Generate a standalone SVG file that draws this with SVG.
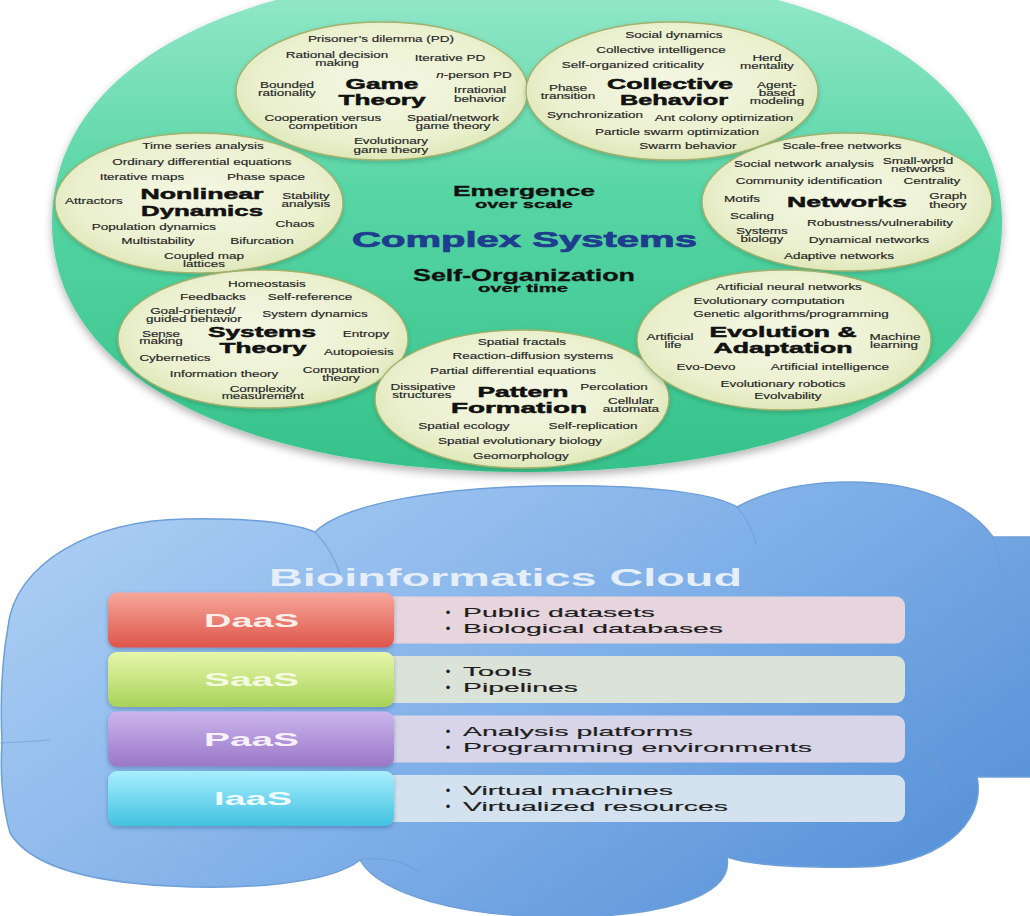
<svg xmlns="http://www.w3.org/2000/svg" width="1030" height="916" viewBox="0 0 1030 916">
<defs>
<linearGradient id="gBig" x1="0" y1="0" x2="0" y2="1">
<stop offset="0" stop-color="#98e9cc"/><stop offset="0.45" stop-color="#56d5a4"/><stop offset="1" stop-color="#36c28a"/>
</linearGradient>
<radialGradient id="gCirc" cx="0.5" cy="0.45" r="0.6">
<stop offset="0" stop-color="#f4f7e3"/><stop offset="0.7" stop-color="#ebf0cf"/><stop offset="1" stop-color="#dbe5b1"/>
</radialGradient>
<linearGradient id="gCloud" x1="0" y1="0.2" x2="1" y2="0.8">
<stop offset="0" stop-color="#aacdf3"/><stop offset="0.5" stop-color="#80b0e8"/><stop offset="1" stop-color="#5590d7"/>
</linearGradient>
<linearGradient id="gD" x1="0" y1="0" x2="0" y2="1"><stop offset="0" stop-color="#f6a89c"/><stop offset="1" stop-color="#df5549"/></linearGradient>
<linearGradient id="gS" x1="0" y1="0" x2="0" y2="1"><stop offset="0" stop-color="#e7f6ab"/><stop offset="1" stop-color="#a8d35a"/></linearGradient>
<linearGradient id="gP" x1="0" y1="0" x2="0" y2="1"><stop offset="0" stop-color="#cbb6ec"/><stop offset="1" stop-color="#9a77c8"/></linearGradient>
<linearGradient id="gI" x1="0" y1="0" x2="0" y2="1"><stop offset="0" stop-color="#a8eefd"/><stop offset="1" stop-color="#42c2e1"/></linearGradient>
<filter id="shBig" x="-5%" y="-5%" width="110%" height="115%"><feDropShadow dx="0" dy="4" stdDeviation="4" flood-color="#000" flood-opacity="0.3"/></filter>
<filter id="shC" x="-5%" y="-5%" width="110%" height="115%"><feDropShadow dx="0" dy="2" stdDeviation="2" flood-color="#1a5a40" flood-opacity="0.3"/></filter>
<filter id="shB" x="-5%" y="-10%" width="110%" height="130%"><feDropShadow dx="0" dy="2" stdDeviation="2" flood-color="#1c3c70" flood-opacity="0.35"/></filter>
</defs>
<style>
.circ{fill:url(#gCirc);stroke:#a3b16c;stroke-width:1.3;filter:url(#shC)}
.s{font-family:"Liberation Sans",Arial,sans-serif;font-size:8.7px;fill:#252525;stroke:#252525;stroke-width:0.15;text-anchor:middle;transform-box:fill-box;transform-origin:50% 50%;transform:scaleX(1.55)}
.t{font-family:"Liberation Sans",Arial,sans-serif;font-size:15px;font-weight:bold;fill:#111;stroke:#111;stroke-width:0.5;text-anchor:middle}
.c{font-family:"Liberation Sans",Arial,sans-serif;font-weight:bold;fill:#111;stroke:#111;stroke-width:0.3;text-anchor:middle}
.blk{font-family:"Liberation Sans",Arial,sans-serif;font-size:19px;font-weight:bold;text-anchor:middle}
.pt{font-family:"Liberation Sans",Arial,sans-serif;font-size:13px;fill:#1e1e1e;stroke:#1e1e1e;stroke-width:0.15}
.bul{font-family:"Liberation Sans",Arial,sans-serif;font-size:13px;fill:#1e1e1e;text-anchor:middle}
.arc{fill:none;stroke:#6f9dd6;stroke-width:1.2;opacity:0.7}
</style>
<rect width="1030" height="916" fill="#ffffff"/>

<g id="complex-systems">
<path d="M1002,223 C1002,377 812,472 527,472 C242,472 52,377 52,223 C52,66 233,-30 527,-30 C821,-30 1002,66 1002,223 Z" fill="url(#gBig)" filter="url(#shBig)"/>
<text class="c" x="524" y="196" font-size="14" textLength="142" lengthAdjust="spacingAndGlyphs">Emergence</text>
<text class="c" x="524" y="207.5" font-size="11" textLength="98" lengthAdjust="spacingAndGlyphs">over scale</text>
<text class="c" x="524.5" y="247" font-size="22" style="fill:#1f3d8e;stroke:#1f3d8e;stroke-width:0.7" textLength="345" lengthAdjust="spacingAndGlyphs">Complex Systems</text>
<text class="c" x="524" y="280.5" font-size="16" textLength="222" lengthAdjust="spacingAndGlyphs">Self-Organization</text>
<text class="c" x="523" y="291.5" font-size="11" textLength="90" lengthAdjust="spacingAndGlyphs">over time</text>
</g>

<g id="game-theory">
<ellipse class="circ" cx="382" cy="91" rx="146" ry="69"/>
<text class="s" x="381" y="42.1">Prisoner’s dilemma (PD)</text>
<text class="s" x="337" y="57.8">Rational decision</text>
<text class="s" x="337" y="66.1">making</text>
<text class="s" x="450" y="61.5">Iterative PD</text>
<text class="s" x="474" y="77.8"><tspan font-style="italic">n</tspan>-person PD</text>
<text class="s" x="287" y="87.8">Bounded</text>
<text class="s" x="287" y="96.1">rationality</text>
<text class="t" x="382" y="88.7" textLength="73" lengthAdjust="spacingAndGlyphs">Game</text>
<text class="t" x="382" y="105" textLength="87" lengthAdjust="spacingAndGlyphs">Theory</text>
<text class="s" x="480" y="93.5">Irrational</text>
<text class="s" x="480" y="101.8">behavior</text>
<text class="s" x="323" y="121.1">Cooperation versus</text>
<text class="s" x="323" y="129.5">competition</text>
<text class="s" x="453" y="121.1">Spatial/network</text>
<text class="s" x="453" y="129.5">game theory</text>
<text class="s" x="391" y="144.5">Evolutionary</text>
<text class="s" x="391" y="152.8">game theory</text>
</g>

<g id="collective-behavior">
<ellipse class="circ" cx="672" cy="91" rx="146" ry="69"/>
<text class="s" x="674" y="37.8">Social dynamics</text>
<text class="s" x="661" y="52.8">Collective intelligence</text>
<text class="s" x="633" y="67.8">Self-organized criticality</text>
<text class="s" x="767" y="61.1">Herd</text>
<text class="s" x="767" y="69.5">mentality</text>
<text class="s" x="568" y="91.1">Phase</text>
<text class="s" x="568" y="99.5">transition</text>
<text class="t" x="670" y="88.7" textLength="126" lengthAdjust="spacingAndGlyphs">Collective</text>
<text class="t" x="674" y="105" textLength="108" lengthAdjust="spacingAndGlyphs">Behavior</text>
<text class="s" x="777" y="87.8">Agent-</text>
<text class="s" x="777" y="96.1">based</text>
<text class="s" x="777" y="104">modeling</text>
<text class="s" x="595" y="117.8">Synchronization</text>
<text class="s" x="724" y="121.1">Ant colony optimization</text>
<text class="s" x="677" y="135.5">Particle swarm optimization</text>
<text class="s" x="688" y="148.8">Swarm behavior</text>
</g>

<g id="nonlinear-dynamics">
<ellipse class="circ" cx="199" cy="203" rx="144" ry="70"/>
<text class="s" x="203" y="149.5">Time series analysis</text>
<text class="s" x="202" y="165.1">Ordinary differential equations</text>
<text class="s" x="142" y="180.5">Iterative maps</text>
<text class="s" x="266" y="180.5">Phase space</text>
<text class="s" x="94" y="203.8">Attractors</text>
<text class="t" x="202" y="199.3" textLength="123" lengthAdjust="spacingAndGlyphs">Nonlinear</text>
<text class="t" x="202" y="216" textLength="122" lengthAdjust="spacingAndGlyphs">Dynamics</text>
<text class="s" x="306" y="198.8">Stability</text>
<text class="s" x="306" y="206.8">analysis</text>
<text class="s" x="295" y="227.1">Chaos</text>
<text class="s" x="154" y="230.5">Population dynamics</text>
<text class="s" x="158" y="244.5">Multistability</text>
<text class="s" x="262" y="244.5">Bifurcation</text>
<text class="s" x="204" y="258.8">Coupled map</text>
<text class="s" x="204" y="266.8">lattices</text>
</g>

<g id="networks">
<ellipse class="circ" cx="847" cy="202" rx="145" ry="69"/>
<text class="s" x="842" y="149.5">Scale-free networks</text>
<text class="s" x="804" y="167.1">Social network analysis</text>
<text class="s" x="918" y="164.5">Small-world</text>
<text class="s" x="918" y="172.1">networks</text>
<text class="s" x="809" y="184.5">Community identification</text>
<text class="s" x="932" y="184.5">Centrality</text>
<text class="s" x="742" y="202.1">Motifs</text>
<text class="t" x="847" y="207.3" textLength="120" lengthAdjust="spacingAndGlyphs">Networks</text>
<text class="s" x="948" y="199.5">Graph</text>
<text class="s" x="948" y="207.8">theory</text>
<text class="s" x="752" y="218.8">Scaling</text>
<text class="s" x="880" y="226.1">Robustness/vulnerability</text>
<text class="s" x="762" y="233.8">Systems</text>
<text class="s" x="762" y="242.1">biology</text>
<text class="s" x="869" y="242.8">Dynamical networks</text>
<text class="s" x="839" y="259.5">Adaptive networks</text>
</g>

<g id="systems-theory">
<ellipse class="circ" cx="263" cy="339" rx="145" ry="69"/>
<text class="s" x="267" y="286.8">Homeostasis</text>
<text class="s" x="213" y="300.1">Feedbacks</text>
<text class="s" x="310" y="300.1">Self-reference</text>
<text class="s" x="193" y="313.8">Goal-oriented/</text>
<text class="s" x="194" y="321.8">guided behavior</text>
<text class="s" x="315" y="317.1">System dynamics</text>
<text class="s" x="161" y="336.8">Sense</text>
<text class="s" x="161" y="344.5">making</text>
<text class="t" x="262" y="336.7" textLength="108" lengthAdjust="spacingAndGlyphs">Systems</text>
<text class="t" x="263" y="353.3" textLength="87" lengthAdjust="spacingAndGlyphs">Theory</text>
<text class="s" x="366" y="336.8">Entropy</text>
<text class="s" x="359" y="355.5">Autopoiesis</text>
<text class="s" x="175" y="361.1">Cybernetics</text>
<text class="s" x="224" y="376.8">Information theory</text>
<text class="s" x="341" y="373.5">Computation</text>
<text class="s" x="341" y="381.1">theory</text>
<text class="s" x="263" y="391.8">Complexity</text>
<text class="s" x="263" y="399.5">measurement</text>
</g>

<g id="pattern-formation">
<ellipse class="circ" cx="522" cy="399" rx="147" ry="69"/>
<text class="s" x="522" y="345.1">Spatial fractals</text>
<text class="s" x="533" y="359.5">Reaction-diffusion systems</text>
<text class="s" x="513" y="374.5">Partial differential equations</text>
<text class="s" x="423" y="390.1">Dissipative</text>
<text class="s" x="422" y="397.8">structures</text>
<text class="t" x="523" y="396.7" textLength="91" lengthAdjust="spacingAndGlyphs">Pattern</text>
<text class="t" x="519" y="413.3" textLength="136" lengthAdjust="spacingAndGlyphs">Formation</text>
<text class="s" x="614" y="390.1">Percolation</text>
<text class="s" x="631" y="404.5">Cellular</text>
<text class="s" x="631" y="412.1">automata</text>
<text class="s" x="464" y="429.5">Spatial ecology</text>
<text class="s" x="593" y="429.5">Self-replication</text>
<text class="s" x="520" y="444.5">Spatial evolutionary biology</text>
<text class="s" x="521" y="458.8">Geomorphology</text>
</g>

<g id="evolution-adaptation">
<ellipse class="circ" cx="784" cy="340" rx="147" ry="70"/>
<text class="s" x="789" y="290.1">Artificial neural networks</text>
<text class="s" x="769" y="304.5">Evolutionary computation</text>
<text class="s" x="791" y="317.1">Genetic algorithms/programming</text>
<text class="s" x="670" y="340.1">Artificial</text>
<text class="s" x="673" y="348.5">life</text>
<text class="t" x="783" y="337.3" textLength="147" lengthAdjust="spacingAndGlyphs">Evolution &amp;</text>
<text class="t" x="783" y="353.3" textLength="139" lengthAdjust="spacingAndGlyphs">Adaptation</text>
<text class="s" x="895" y="340.1">Machine</text>
<text class="s" x="894" y="348.5">learning</text>
<text class="s" x="706" y="370.1">Evo-Devo</text>
<text class="s" x="830" y="370.1">Artificial intelligence</text>
<text class="s" x="783" y="386.8">Evolutionary robotics</text>
<text class="s" x="788" y="399.5">Evolvability</text>
</g>

<g id="bioinformatics-cloud">
<path d="M8,627 C14,565 90,520 185,519 C245,518 290,522 315,532 C345,503 440,488 540,486 C640,484 712,492 737,507 C770,489 810,482 850,482 C915,482 968,502 993,537 L1040,537 L1040,777 L977,777 C987,825 935,866 860,867 C800,868 750,865 727,857 C735,900 650,918 555,917 C460,916 380,895 360,860 C330,884 245,890 170,886 C90,882 30,866 10,833 C2,805 0,770 2,743 C0,700 2,660 8,627 Z" fill="url(#gCloud)" stroke="#6e9fd8" stroke-width="1.5"/>
<path class="arc" d="M315,532 C328,546 336,560 340,575"/>
<path class="arc" d="M737,507 C748,520 754,532 756,545"/>
<path class="arc" d="M993,537 C1000,560 1003,585 1003,610"/>
<path class="arc" d="M905,733 C930,748 943,768 946,790"/>
<path class="arc" d="M727,857 C745,846 765,842 785,841"/>
<path class="arc" d="M360,860 C385,856 405,862 420,873"/>
<path class="arc" d="M0,743 C20,742 35,741 50,740"/>
<text x="505.5" y="586" font-family="Liberation Sans, Arial, sans-serif" font-size="24" font-weight="bold" fill="#e6eefa" text-anchor="middle" textLength="473" lengthAdjust="spacingAndGlyphs">Bioinformatics Cloud</text>
</g>

<g id="daas">
<rect x="380" y="596.5" width="525" height="47" rx="9" fill="#e7d5dd"/>
<rect x="108" y="592.5" width="286" height="55" rx="9" fill="url(#gD)" filter="url(#shB)"/>
<text class="blk" x="251.5" y="626.8" fill="#fdeeea" textLength="95" lengthAdjust="spacingAndGlyphs">DaaS</text>
<text class="bul" x="448" y="616.6">•</text>
<text class="pt" x="463" y="616.6" textLength="192" lengthAdjust="spacingAndGlyphs">Public datasets</text>
<text class="bul" x="448" y="632.6">•</text>
<text class="pt" x="463" y="632.6" textLength="260" lengthAdjust="spacingAndGlyphs">Biological databases</text>
</g>

<g id="saas">
<rect x="380" y="656" width="525" height="47" rx="9" fill="#dbe2d8"/>
<rect x="108" y="652" width="286" height="55" rx="9" fill="url(#gS)" filter="url(#shB)"/>
<text class="blk" x="251.5" y="686.3" fill="#f4fbe2" textLength="95" lengthAdjust="spacingAndGlyphs">SaaS</text>
<text class="bul" x="448" y="676.1">•</text>
<text class="pt" x="463" y="676.1" textLength="69" lengthAdjust="spacingAndGlyphs">Tools</text>
<text class="bul" x="448" y="692.1">•</text>
<text class="pt" x="463" y="692.1" textLength="115" lengthAdjust="spacingAndGlyphs">Pipelines</text>
</g>

<g id="paas">
<rect x="380" y="715.5" width="525" height="47" rx="9" fill="#d9d5e8"/>
<rect x="108" y="711.5" width="286" height="55" rx="9" fill="url(#gP)" filter="url(#shB)"/>
<text class="blk" x="251.5" y="745.8" fill="#f7f0fd" textLength="95" lengthAdjust="spacingAndGlyphs">PaaS</text>
<text class="bul" x="448" y="735.6">•</text>
<text class="pt" x="463" y="735.6" textLength="230" lengthAdjust="spacingAndGlyphs">Analysis platforms</text>
<text class="bul" x="448" y="751.6">•</text>
<text class="pt" x="463" y="751.6" textLength="349" lengthAdjust="spacingAndGlyphs">Programming environments</text>
</g>

<g id="iaas">
<rect x="380" y="775" width="525" height="47" rx="9" fill="#d3e2ee"/>
<rect x="108" y="771" width="286" height="55" rx="9" fill="url(#gI)" filter="url(#shB)"/>
<text class="blk" x="253" y="805.3" fill="#effcff" textLength="78" lengthAdjust="spacingAndGlyphs">IaaS</text>
<text class="bul" x="448" y="795.1">•</text>
<text class="pt" x="463" y="795.1" textLength="210" lengthAdjust="spacingAndGlyphs">Virtual machines</text>
<text class="bul" x="448" y="811.1">•</text>
<text class="pt" x="463" y="811.1" textLength="265" lengthAdjust="spacingAndGlyphs">Virtualized resources</text>
</g>
</svg>
